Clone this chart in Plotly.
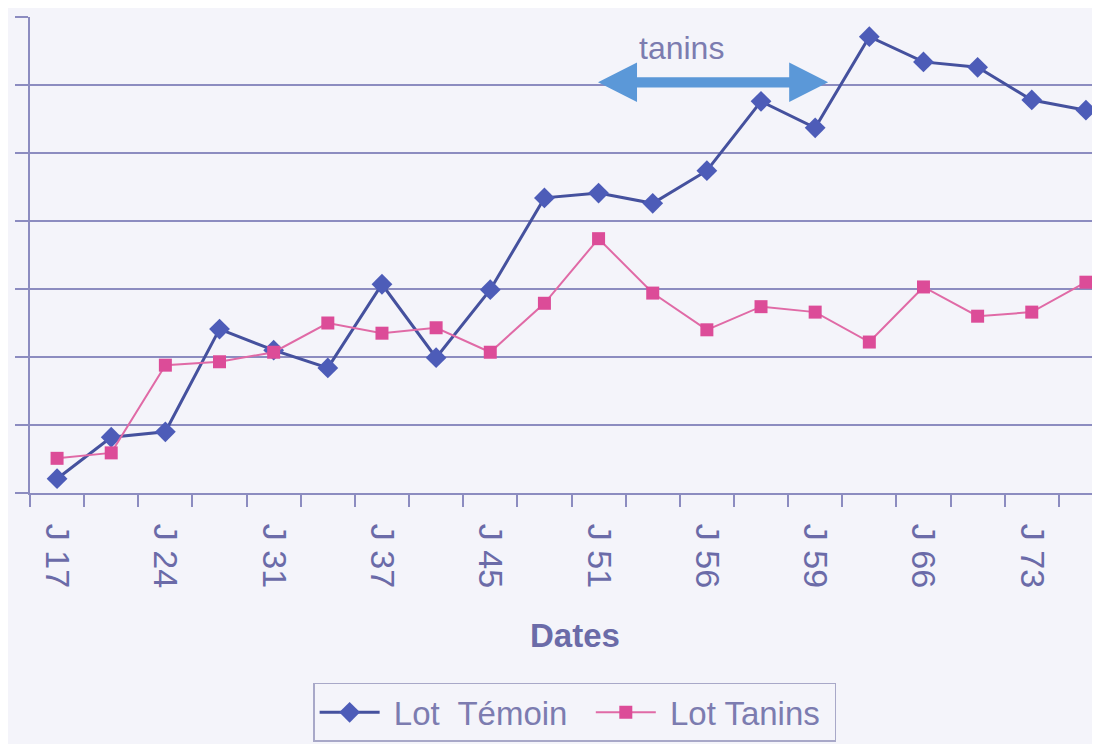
import plotly.graph_objects as go

# ---- data ----
jour_labels = ["J 17", "J 24", "J 31", "J 37", "J 45", "J 51", "J 56", "J 59", "J 66", "J 73"]
n_points = 20
x_index = list(range(n_points))
label_positions = list(range(0, n_points, 2))

lot_temoin = [0.21, 0.82, 0.90, 2.41, 2.10, 1.84, 3.07, 1.99, 2.99, 4.34,
              4.41, 4.26, 4.74, 5.76, 5.37, 6.71, 6.34, 6.26, 5.78, 5.63]
lot_tanins = [0.51, 0.59, 1.88, 1.93, 2.07, 2.50, 2.35, 2.43, 2.07, 2.79,
              3.74, 2.94, 2.40, 2.74, 2.66, 2.22, 3.03, 2.60, 2.66, 3.10]

# tanins period arrow (x in point index, y in axis units)
arrow_x0, arrow_x1, arrow_y = 9.99, 14.24, 6.04

# ---- style ----
BG = "#f4f4fa"
GRID = "#8c8cc0"
TXT = "#6b6ba8"
BLUE_L = "#45519e"
BLUE_M = "#4d5cb8"
PINK_L = "#e06aa6"
PINK_M = "#dc4c98"
FONT = "Liberation Sans, Arial, sans-serif"

fig = go.Figure()
fig.add_trace(go.Scatter(
    x=x_index, y=lot_temoin, mode="lines+markers", name=" Lot  Témoin  ",
    line=dict(color=BLUE_L, width=3),
    marker=dict(symbol="diamond", size=16, color=BLUE_M),
))
fig.add_trace(go.Scatter(
    x=x_index, y=lot_tanins, mode="lines+markers", name=" Lot Tanins ",
    line=dict(color=PINK_L, width=2),
    marker=dict(symbol="square", size=13, color=PINK_M),
))

# double-headed arrow
hl = 0.72   # head length (x units)
hh = 0.29   # head half-height (y units)
sh = 0.075  # shaft half-thickness
a0, a1, ay = arrow_x0, arrow_x1, arrow_y
path = (f"M {a0},{ay} L {a0+hl},{ay+hh} L {a0+hl},{ay+sh} L {a1-hl},{ay+sh} "
        f"L {a1-hl},{ay+hh} L {a1},{ay} L {a1-hl},{ay-hh} L {a1-hl},{ay-sh} "
        f"L {a0+hl},{ay-sh} L {a0+hl},{ay-hh} Z")
fig.add_shape(type="path", path=path, xref="x", yref="y",
              fillcolor="#5b98d8", line=dict(width=0), layer="above")

fig.add_annotation(x=11.54, y=6.54, xref="x", yref="y", text="tanins",
                   showarrow=False, font=dict(family=FONT, size=32, color="#7c7cb0"))

fig.add_annotation(x=0.509, y=-0.300, xref="paper", yref="paper", text="<b>Dates</b>",
                   showarrow=False, yanchor="middle",
                   font=dict(family=FONT, size=33, color=TXT))

fig.update_xaxes(
    range=[-0.5, 19.26], tickmode="array", tickvals=label_positions, ticktext=jour_labels,
    tickangle=90, ticks="", ticklabelstandoff=22,
    tickfont=dict(family=FONT, size=34, color=TXT),
    showgrid=False, zeroline=False, showline=True, linecolor=GRID, linewidth=2,
    minor=dict(tickmode="linear", tick0=-0.5, dtick=1, ticks="outside", ticklen=12,
               tickcolor=GRID, tickwidth=1.5, showgrid=False),
)
fig.update_yaxes(
    range=[0, 7], dtick=1, tick0=0, showticklabels=False,
    ticks="outside", ticklen=13, tickcolor=GRID, tickwidth=1.5,
    showgrid=True, gridcolor=GRID, gridwidth=1.5, zeroline=False,
    showline=True, linecolor=GRID, linewidth=2,
)

fig.update_layout(
    width=1092, height=736,
    margin=dict(l=22, r=0, t=9, b=251),
    paper_bgcolor=BG, plot_bgcolor=BG,
    font=dict(family=FONT, color=TXT),
    showlegend=True,
    legend=dict(
        orientation="h", x=0.509, xanchor="center", y=-0.399, yanchor="top",
        bordercolor="#a8a8c8", borderwidth=1.5, bgcolor=BG,
        font=dict(family=FONT, size=33, color="#7c7cb0"),
        itemwidth=60, tracegroupgap=0,
    ),
)

fig.write_html("out.html")
